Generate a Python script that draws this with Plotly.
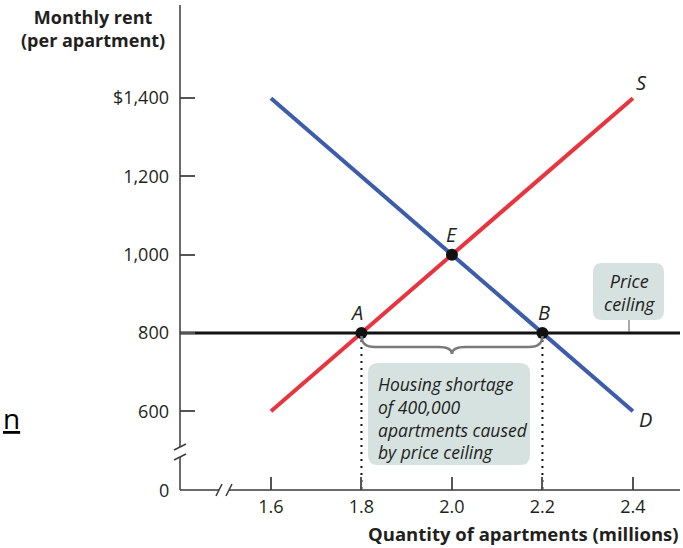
import plotly.graph_objects as go

# ---- data -------------------------------------------------------------
quantity_ticks = [1.6, 1.8, 2.0, 2.2, 2.4]
quantity_tick_labels = ["1.6", "1.8", "2.0", "2.2", "2.4"]
rent_ticks = [600, 800, 1000, 1200, 1400]
rent_tick_labels = ["600", "800", "1,000", "1,200", "$1,400"]

demand_q = [1.6, 2.4]
demand_p = [1400, 600]
supply_q = [1.6, 2.4]
supply_p = [600, 1400]

ceiling_price = 800
point_names = ["A", "B", "E"]
point_q = [1.8, 2.2, 2.0]
point_p = [800, 800, 1000]

# ---- layout geometry (pixels) ----------------------------------------
FIG_W, FIG_H = 683, 548
L, T, R, B = 180, 5, 3, 58
PW, PH = FIG_W - L - R, FIG_H - T - B
x_range = [1.399, 2.504]
y_range = [399, 1638]

FONT = "Open Sans"
INK = "#231f20"
AXIS = "#3a3a3a"
RED = "#e8343f"
BLUE = "#3d5ca9"
BOX = "#d6e2e0"


def px(x):
    return (x - L) / PW


def py(y):
    return (T + PH - y) / PH


def round_rect(x0, y0, x1, y1, r):
    """Rounded rectangle path in paper coordinates from pixel corners."""
    pts = [
        f"M {px(x0 + r)},{py(y0)}",
        f"L {px(x1 - r)},{py(y0)}",
        f"Q {px(x1)},{py(y0)} {px(x1)},{py(y0 + r)}",
        f"L {px(x1)},{py(y1 - r)}",
        f"Q {px(x1)},{py(y1)} {px(x1 - r)},{py(y1)}",
        f"L {px(x0 + r)},{py(y1)}",
        f"Q {px(x0)},{py(y1)} {px(x0)},{py(y1 - r)}",
        f"L {px(x0)},{py(y0 + r)}",
        f"Q {px(x0)},{py(y0)} {px(x0 + r)},{py(y0)} Z",
    ]
    return " ".join(pts)


fig = go.Figure()

# supply and demand curves
fig.add_trace(go.Scatter(x=supply_q, y=supply_p, mode="lines",
                         line=dict(color=RED, width=4), hoverinfo="skip"))
fig.add_trace(go.Scatter(x=demand_q, y=demand_p, mode="lines",
                         line=dict(color=BLUE, width=4), hoverinfo="skip"))

shapes = []

# price ceiling line across the whole plot
shapes.append(dict(type="line", xref="paper", yref="y", x0=0, x1=1,
                   y0=ceiling_price, y1=ceiling_price,
                   line=dict(color="#111111", width=3), layer="below"))

# dotted drop lines from A and B to the quantity axis
for q in point_q[:2]:
    shapes.append(dict(type="line", xref="x", yref="y", x0=q, x1=q,
                       y0=ceiling_price, y1=y_range[0],
                       line=dict(color="#111111", width=2, dash="2px,5px"),
                       layer="below"))

# curly brace spanning the shortage
qa, qb = point_q[0], point_q[1]
qm = (qa + qb) / 2
c = 0.03
brace = (f"M {qa},-3 Q {qa},-14 {qa + c},-14 L {qm - c},-14 "
         f"Q {qm},-14 {qm},-21 Q {qm},-14 {qm + c},-14 L {qb - c},-14 "
         f"Q {qb},-14 {qb},-3")
shapes.append(dict(type="path", xref="x", yref="y", ysizemode="pixel",
                   yanchor=ceiling_price, path=brace,
                   line=dict(color="#7a7a7a", width=2.5)))

# axis lines with breaks
xb0, xb1 = 219, 229   # gap in the quantity axis (px)
yb0, yb1 = 447, 457   # gap in the rent axis (px)
shapes += [
    dict(type="line", xref="paper", yref="paper", x0=0, x1=0, y0=1, y1=py(yb0),
         line=dict(color=AXIS, width=1.5)),
    dict(type="line", xref="paper", yref="paper", x0=0, x1=0, y0=py(yb1), y1=0,
         line=dict(color=AXIS, width=1.5)),
    dict(type="line", xref="paper", yref="paper", x0=0, x1=px(xb0), y0=0, y1=0,
         line=dict(color=AXIS, width=1.5)),
    dict(type="line", xref="paper", yref="paper", x0=px(xb1), x1=1, y0=0, y1=0,
         line=dict(color=AXIS, width=1.5)),
]
for yy in (yb0, yb1):
    shapes.append(dict(type="line", xref="paper", yref="paper",
                       x0=px(174), x1=px(186), y0=py(yy + 3), y1=py(yy - 3),
                       line=dict(color=AXIS, width=1.5)))
for xx in (xb0, xb1):
    shapes.append(dict(type="line", xref="paper", yref="paper",
                       x0=px(xx - 3), x1=px(xx + 3), y0=py(496), y1=py(484),
                       line=dict(color=AXIS, width=1.5)))

# callout boxes
shapes.append(dict(type="path", xref="paper", yref="paper",
                   path=round_rect(368, 363, 530, 465, 10),
                   fillcolor=BOX, line=dict(width=0), layer="below"))
shapes.append(dict(type="path", xref="paper", yref="paper",
                   path=round_rect(593, 263, 664, 320, 9),
                   fillcolor=BOX, line=dict(width=0), layer="below"))
shapes.append(dict(type="line", xref="paper", yref="paper",
                   x0=px(629), x1=px(629), y0=py(320), y1=py(332),
                   line=dict(color="#555555", width=1)))

# equilibrium and ceiling points
fig.add_trace(go.Scatter(x=point_q, y=point_p, mode="markers",
                         marker=dict(color="#111111", size=12),
                         hoverinfo="skip"))

annotations = []
label_shift = {"A": (-5, 21), "B": (2, 21), "E": (0, 20)}
for name, q, p in zip(point_names, point_q, point_p):
    dx, dy = label_shift[name]
    annotations.append(dict(x=q, y=p, xref="x", yref="y", text=name,
                            showarrow=False, xshift=dx, yshift=dy,
                            font=dict(family=FONT, size=20, color=INK,
                                      style="italic")))
annotations.append(dict(x=supply_q[-1], y=supply_p[-1], text="S",
                        showarrow=False, xshift=9, yshift=16,
                        font=dict(family=FONT, size=20, color=INK,
                                  style="italic")))
annotations.append(dict(x=demand_q[-1], y=demand_p[-1], text="D",
                        showarrow=False, xshift=13, yshift=-8,
                        font=dict(family=FONT, size=20, color=INK,
                                  style="italic")))

# callout text
annotations.append(dict(xref="paper", yref="paper", x=px(376), y=py(370),
                        xanchor="left", yanchor="top", align="left",
                        showarrow=False,
                        text=("Housing shortage<br>of 400,000<br>"
                              "apartments caused<br>by price ceiling"),
                        font=dict(family=FONT, size=17.5, color=INK,
                                  style="italic")))
annotations.append(dict(xref="paper", yref="paper", x=px(629), y=py(292),
                        xanchor="center", yanchor="middle", align="center",
                        showarrow=False, text="Price<br>ceiling",
                        font=dict(family=FONT, size=18, color=INK,
                                  style="italic")))

# axis titles and origin
annotations.append(dict(xref="paper", yref="paper", x=px(93), y=py(3),
                        xanchor="center", yanchor="top", align="center",
                        showarrow=False,
                        text="<b>Monthly rent<br>(per apartment)</b>",
                        font=dict(family=FONT, size=18, color=INK)))
annotations.append(dict(xref="paper", yref="paper", x=px(681), y=py(533),
                        xanchor="right", yanchor="middle", showarrow=False,
                        text="<b>Quantity of apartments (millions)</b>",
                        font=dict(family=FONT, size=18.5, color=INK)))
annotations.append(dict(xref="paper", yref="paper", x=px(164), y=py(490),
                        xanchor="center", yanchor="middle", showarrow=False,
                        text="0", font=dict(family=FONT, size=18, color=INK)))
annotations.append(dict(xref="paper", yref="paper", x=px(1), y=py(418),
                        xanchor="left", yanchor="middle", showarrow=False,
                        text="<u>n</u>",
                        font=dict(family=FONT, size=28, color="#000000")))

fig.update_layout(
    width=FIG_W, height=FIG_H,
    margin=dict(l=L, r=R, t=T, b=B),
    paper_bgcolor="white", plot_bgcolor="white",
    showlegend=False,
    shapes=shapes, annotations=annotations,
    xaxis=dict(range=x_range, showgrid=False, zeroline=False, showline=False,
               tickvals=quantity_ticks, ticktext=quantity_tick_labels,
               ticks="inside", ticklen=13, tickwidth=1.5, tickcolor="#555555",
               tickfont=dict(family=FONT, size=18, color=INK),
               ticklabelstandoff=4, fixedrange=True),
    yaxis=dict(range=y_range, showgrid=False, zeroline=False, showline=False,
               tickvals=rent_ticks, ticktext=rent_tick_labels,
               ticks="inside", ticklen=15, tickwidth=1.5, tickcolor="#555555",
               tickfont=dict(family=FONT, size=18, color=INK),
               ticklabelstandoff=10, fixedrange=True),
)

fig.write_html("out.html")
